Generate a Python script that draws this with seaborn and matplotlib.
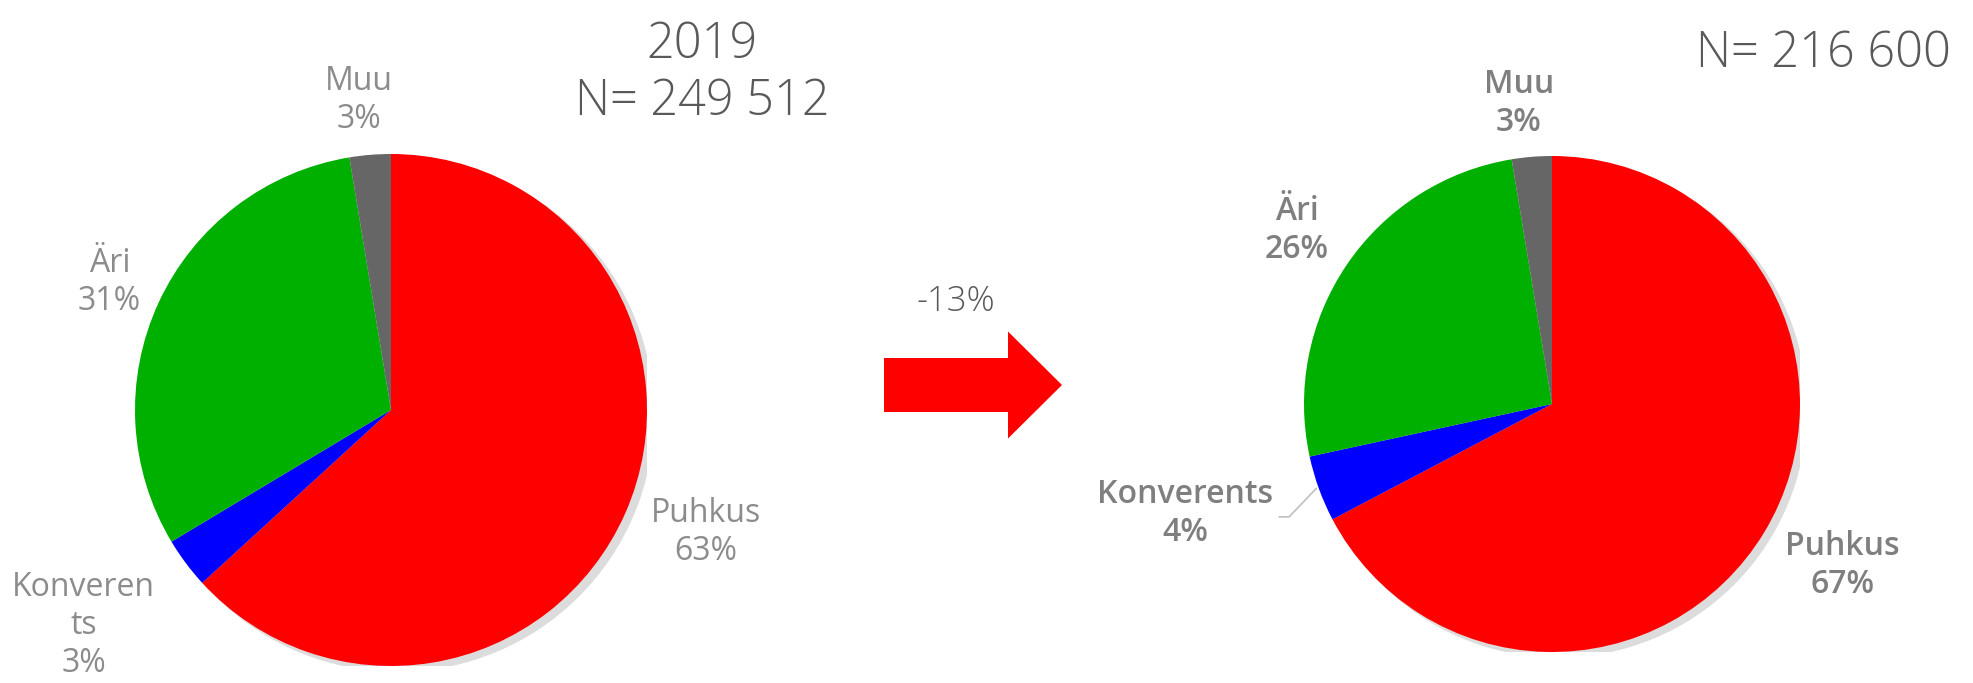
import matplotlib
matplotlib.use("Agg")
import matplotlib.pyplot as plt
import seaborn as sns
from matplotlib.patches import FancyArrow, Circle

# data
categories = ["Puhkus", "Konverents", "Äri", "Muu"]
share_2019 = [63.2, 3.2, 31.0, 2.6]
share_2020 = [67.3, 4.3, 25.8, 2.6]
colors = ["#ff0000", "#0000ff", "#00b000", "#666666"]
titles = [["2019", "N= 249 512"], ["2020", "N= 216 600"]]
change_label = "-13%"

sns.set_theme(style="white")
plt.rcParams["font.family"] = ["Open Sans", "DejaVu Sans"]

W, H = 1973, 683
fig = plt.figure(figsize=(W / 100, H / 100), dpi=100)


def pie_axes(cx, cy, r):
    ax = fig.add_axes([(cx - r) / W, (H - cy - r) / H, 2 * r / W, 2 * r / H])
    return ax


def draw_pie(ax, shares, label_pos, style):
    # soft shadow behind the pie
    ax.add_patch(Circle((0.025, -0.02), 1.0, color="#dcdcdc", zorder=0))
    ax.pie(shares, colors=colors, startangle=90, counterclock=False, radius=1.0,
           wedgeprops=dict(linewidth=0), normalize=True)
    ax.set_xlim(-1, 1)
    ax.set_ylim(-1, 1)
    ax.set_aspect("equal")
    ax.axis("off")
    for name, val, (x, y) in zip(categories, shares, label_pos):
        txt = "Konveren\nts" if (name == "Konverents" and style["wrap"]) else name
        ax.text(x, y, f"{txt}\n{round(val):.0f}%", ha="center", va="center",
                fontsize=style["size"], color=style["color"],
                fontweight=style["weight"], linespacing=1.2, clip_on=False)


ax1 = pie_axes(391, 410, 256)
draw_pie(ax1, share_2019,
         [(1.23, -0.48), (-1.20, -0.84), (-1.10, 0.50), (-0.125, 1.21)],
         dict(size=23, color="#8c8c8c", weight="normal", wrap=True))

ax2 = pie_axes(1552, 404, 248)
draw_pie(ax2, share_2020,
         [(1.17, -0.65), (-1.48, -0.44), (-1.03, 0.70), (-0.133, 1.21)],
         dict(size=23, color="#7f7f7f", weight="semibold", wrap=False))
# leader line for Konverents
ax2.plot([-1.10, -1.06, -0.95], [-0.455, -0.455, -0.34], color="#bfbfbf", lw=1.2,
         clip_on=False)

# overlay in pixel coordinates
ov = fig.add_axes([0, 0, 1, 1])
ov.set_xlim(0, W)
ov.set_ylim(H, 0)
ov.axis("off")
ov.patch.set_alpha(0)

# year / N headings (the 2020 year sits mostly above the top edge, as in the source)
for (year, n), cx, y_year, y_n in zip(titles, [702, 1823], [45, -18], [102, 54]):
    ov.text(cx, y_year, year, ha="center", va="center", fontsize=35,
            color="#595959", fontweight="light")
    ov.text(cx, y_n, n, ha="center", va="center", fontsize=35,
            color="#595959", fontweight="light")

ov.text(956, 302, change_label, ha="center", va="center", fontsize=25,
        color="#595959", fontweight="light")
ov.add_patch(FancyArrow(884, 385, 178, 0, width=54, head_width=107, head_length=54,
                        length_includes_head=True, color="#ff0000", linewidth=0))

fig.savefig("out.png", dpi=100)
